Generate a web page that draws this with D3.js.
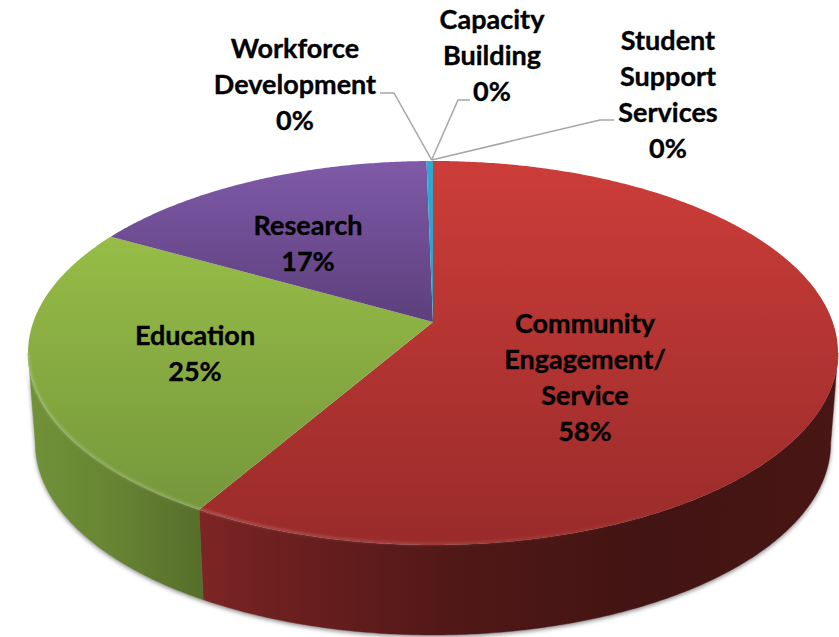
<!DOCTYPE html>
<html><head><meta charset="utf-8">
<script src="https://cdn.jsdelivr.net/npm/d3@7"></script>
<style>html,body{margin:0;padding:0;background:#fff}svg{display:block}</style>
</head><body><div id="c"></div>
<script>
// ---- data ----
const categories = ["Community Engagement/ Service","Education","Research","Workforce Development","Capacity Building","Student Support Services"];
const values = [58.4,24.8,16.5,0.3,0,0];
const percentLabels = ["58%","25%","17%","0%","0%","0%"];
const labelLines = [["Community","Engagement/","Service"],["Education"],["Research"],["Workforce","Development"],["Capacity","Building"],["Student","Support","Services"]];
// ---- layout ----
const W=839,H=637;
const apex={x:433,y:322}, k=0.1614, a=399.7, b=187, depth=90, bottomScale=0.982;
const labelAt=[[585,324],[195,336],[308,226],[295,49],[492,20],[668,41]];
const leaderPts=[null,null,null,[[380,93],[394,93]],[[470,100],[458,100]],[[614,120],[600,120]]];
const topColors=[["#CC3D39","#992B2A"],["#A0C74A","#71923A"],["#7F5AA8","#2C1A3F"],["#2FA9CE","#2A90B0"],["#F79646","#F79646"],["#4F81BD","#4F81BD"]];
const sideStops=[[[0,"#7E2525"],[0.1,"#702020"],[0.4,"#501817"],[0.7,"#421413"],[1,"#481614"]],[[0,"#709238"],[0.5,"#678433"],[1,"#566F2A"]]];

const yTop=d3.scaleLinear().domain([0,1]).range([apex.y-b/(1+k),apex.y+b/(1-k)]);
function proj(t,r=1,z=0){
  const u=r*Math.sin(t),v=r*Math.cos(t),d=1+k*v;
  const s=z?bottomScale:1;
  return [apex.x+s*a*u/d, apex.y-b*v/d+z*depth];
}
const line=d3.line();
const step=Math.PI/360;
function arcPts(t0,t1,z=0){
  const n=Math.max(2,Math.ceil((t1-t0)/step)+1);
  return d3.range(n).map(i=>proj(t0+(t1-t0)*i/(n-1),1,z));
}
const pie=d3.pie().sort(null).value(d=>d);
const arcs=pie(values);
const svg=d3.select("#c").append("svg").attr("width",W).attr("height",H).attr("viewBox",[0,0,W,H]);
const defs=svg.append("defs");
topColors.forEach((c,i)=>{
  const g=defs.append("linearGradient").attr("id","top"+i).attr("gradientUnits","userSpaceOnUse")
    .attr("x1",0).attr("x2",0).attr("y1",yTop(0)).attr("y2",yTop(1));
  g.append("stop").attr("offset",0).attr("stop-color",c[0]);
  g.append("stop").attr("offset",1).attr("stop-color",c[1]);
});
sideStops.forEach((st,i)=>{
  const t=i==0?arcs[0]:arcs[1];
  const p0=proj(t.endAngle>=Math.PI*1.5?Math.PI*1.45:t.endAngle),p1=proj(i==0?Math.PI*0.55:t.startAngle);
  const g=defs.append("linearGradient").attr("id","side"+i).attr("gradientUnits","userSpaceOnUse")
    .attr("x1",p0[0]).attr("x2",p1[0]).attr("y1",0).attr("y2",0);
  st.forEach(s=>g.append("stop").attr("offset",s[0]).attr("stop-color",s[1]));
});
const rim=defs.append("linearGradient").attr("id","rim").attr("gradientUnits","userSpaceOnUse")
  .attr("x1",proj(Math.PI*1.45)[0]).attr("x2",proj(Math.PI*0.8)[0]).attr("y1",0).attr("y2",0);
rim.append("stop").attr("offset",0).attr("stop-color","#fff").attr("stop-opacity",.2);
rim.append("stop").attr("offset",.6).attr("stop-color","#fff").attr("stop-opacity",.1);
rim.append("stop").attr("offset",1).attr("stop-color","#fff").attr("stop-opacity",0);
defs.append("filter").attr("id","blur").attr("x","-10%").attr("y","-10%").attr("width","120%").attr("height","120%")
  .append("feGaussianBlur").attr("stdDeviation",2.2);
defs.append("filter").attr("id","soft").attr("x","-10%").attr("y","-10%").attr("width","120%").attr("height","120%")
  .append("feGaussianBlur").attr("stdDeviation",0.8);

const frontA=Math.acos(-k), frontB=2*Math.PI-frontA;
// shadow
const sil=arcPts(frontA,frontB,0).concat(arcPts(frontA,frontB,1).reverse());
svg.append("path").attr("d",line(sil)+"Z").attr("fill","#8c8c8c")
  .attr("transform","translate(0,2)").attr("filter","url(#blur)");
// sides
arcs.slice(0,2).forEach((d,i)=>{
  const t0=Math.max(d.startAngle,frontA),t1=Math.min(d.endAngle,frontB);
  if(t1<=t0)return;
  const pts=arcPts(t0,t1,0).concat(arcPts(t0,t1,1).reverse());
  svg.append("path").attr("d",line(pts)+"Z").attr("fill",`url(#side${i})`).attr("stroke",`url(#side${i})`).attr("stroke-width",.4);
});
// top faces
arcs.forEach((d,i)=>{
  if(d.endAngle<=d.startAngle)return;
  const pts=[[apex.x,apex.y]].concat(arcPts(d.startAngle,d.endAngle,0));
  svg.append("path").attr("d",line(pts)+"Z").attr("fill",`url(#top${i})`);
});
// bevel highlight
svg.append("path").attr("d",line(arcPts(frontA+.6,frontB,0).map(p=>[p[0],p[1]-1])))
  .attr("fill","none").attr("stroke","url(#rim)").attr("stroke-width",3).attr("filter","url(#soft)");
// leaders
const hub=proj(2*Math.PI-0.004);
leaderPts.forEach(p=>{
  if(!p)return;
  svg.append("path").attr("d",line(p.concat([[hub[0],hub[1]-1]]))).attr("fill","none")
    .attr("stroke","#A6A6A6").attr("stroke-width",1.5);
});
// labels
const fs=27,lh=36;
categories.forEach((c,i)=>{
  const t=svg.append("text").attr("text-anchor","middle")
    .attr("font-family","Lato, 'Open Sans', sans-serif").attr("font-weight",700)
    .attr("font-size",fs).attr("fill","#000").attr("stroke","#000").attr("stroke-width",.35);
  labelLines[i].concat([percentLabels[i]]).forEach((s,j)=>{
    t.append("tspan").attr("x",labelAt[i][0]).attr("y",labelAt[i][1]+j*lh+fs*0.34).text(s);
  });
});
</script></body></html>
